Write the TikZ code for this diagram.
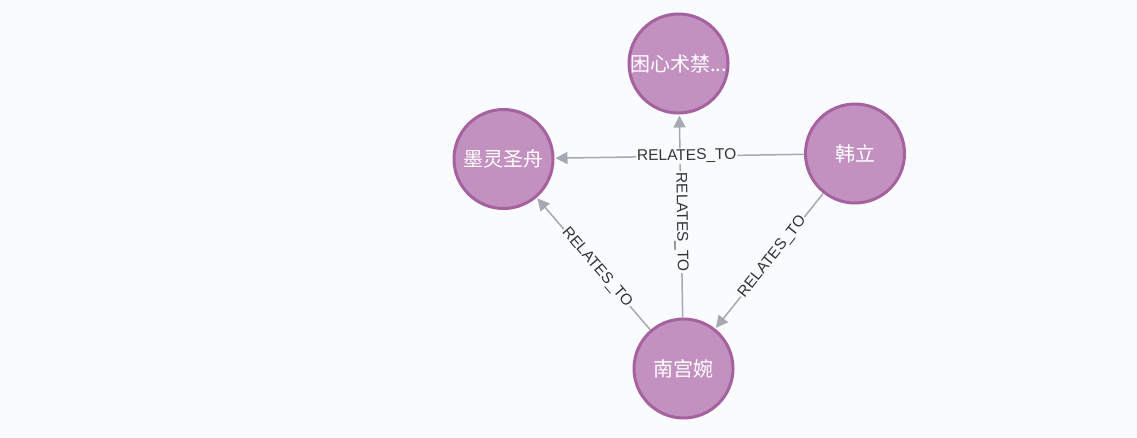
\documentclass[tikz,border=0pt]{standalone}
\usepackage{fontspec}
\setmainfont{Liberation Sans}
\newfontfamily\cjk{Noto Sans CJK SC}
\usetikzlibrary{arrows.meta}
\definecolor{canvasbg}{HTML}{FAFBFE}
\definecolor{nodefill}{HTML}{C291C0}
\definecolor{nodeline}{HTML}{A5629F}
\definecolor{relline}{HTML}{A5A9B2}
\definecolor{reltext}{HTML}{333333}
\tikzset{
  entity/.style={draw=nodeline, fill=nodefill, line width=3pt, circle,
    minimum size=99pt, inner sep=0pt, text=white,
    font=\cjk\fontsize{20}{23}\selectfont},
  relation/.style={color=relline, line width=1.5pt,
    -{Triangle[length=12pt,width=12pt]}, shorten >=1pt},
  rellabel/.style={fill=canvasbg, text=reltext, inner sep=1pt, sloped,
    pos=0.47, font=\fontsize{15.5}{17}\selectfont}
}

\begin{document}
\begin{tikzpicture}[x=1pt,y=-1pt]

  \fill [canvasbg] (0,0) rectangle (1137,437);

  \node [entity] at (678.5,63.5) (kunxin) {困心术禁...};
  \node [entity] at (503.5,159) (moling) {墨灵圣舟};
  \node [entity] at (855,153.5) (hanli) {韩立};
  \node [entity] at (683.5,368.5) (nangong) {南宫婉};

  \path [relation] (nangong) edge node [rellabel] {RELATES\_TO} (kunxin)
    (nangong) edge node [rellabel] {RELATES\_TO} (moling)
    (hanli) edge node [rellabel] {RELATES\_TO} (nangong)
    (hanli) edge node [rellabel] {RELATES\_TO} (moling);

\end{tikzpicture}
\end{document}
